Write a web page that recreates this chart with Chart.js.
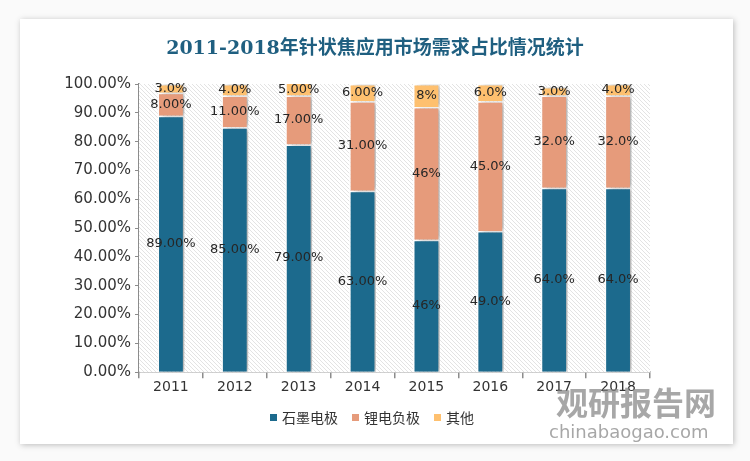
<!DOCTYPE html>
<html>
<head>
<meta charset="utf-8">
<script src="https://cdn.jsdelivr.net/npm/chart.js@4.4.0/dist/chart.umd.min.js"></script>
<style>
  body { margin: 0; background: #f4f4f4; }
  .wrap { position: relative; width: 750px; height: 461px; background: #fafafa; }
  .card { position: absolute; left: 20px; top: 19px; width: 713px; height: 425px; background: #fff;
          box-shadow: 1px 1px 6px rgba(0,0,0,0.25); }
  canvas { position: absolute; left: 0; top: 0; }
  .title { position: absolute; left: 0; top: 32px; width: 750px; text-align: center;
           font: bold 19px "DejaVu Serif", "Noto Sans CJK SC"; color: #1f5f80; }
  .legend { position: absolute; left: 270px; top: 407px; font: 14px "Noto Sans CJK SC"; color: #333; white-space: nowrap; }
  .legend span { display: inline-block; margin-right: 14px; }
  .legend i { display: inline-block; width: 7px; height: 7px; margin-right: 5px; vertical-align: 2px; }
  .wm1 { position: absolute; left: 556px; top: 378px; font: bold 32px "Noto Sans CJK SC"; color: rgba(130,130,130,0.7); }
  .wm2 { position: absolute; left: 549px; top: 421px; font: 18px "DejaVu Sans"; color: rgba(130,130,130,0.7); }
</style>
</head>
<body>
<div class="wrap">
  <div class="card"></div>
  <canvas id="demandChart" width="750" height="461"></canvas>
  <div class="title">2011-2018年针状焦应用市场需求占比情况统计</div>
  <div class="legend" id="legend"></div>
  <div class="wm1">观研报告网</div>
  <div class="wm2">chinabaogao.com</div>
</div>
<script>
const years = ['2011', '2012', '2013', '2014', '2015', '2016', '2017', '2018'];
const graphite = [89, 85, 79, 63, 46, 49, 64, 64];
const anode = [8, 11, 17, 31, 46, 45, 32, 32];
const other = [3, 4, 5, 6, 8, 6, 3, 4];
// decimals used by each label in the picture
const graphiteDec = [2, 2, 2, 2, 0, 1, 1, 1];
const anodeDec = [2, 2, 2, 2, 0, 1, 1, 1];
const otherDec = [1, 1, 2, 2, 0, 1, 1, 1];

function hatch() {
    const c = document.createElement('canvas');
    c.width = 4; c.height = 4;
    const g = c.getContext('2d');
    g.fillStyle = '#ffffff';
    g.fillRect(0, 0, 4, 4);
    g.strokeStyle = '#e3e3e3';
    g.lineWidth = 1;
    g.beginPath();
    g.moveTo(0, 0); g.lineTo(4, 4);
    g.moveTo(-2, 2); g.lineTo(2, 6);
    g.moveTo(2, -2); g.lineTo(6, 2);
    g.stroke();
    return g.createPattern(c, 'repeat');
}

const bgPlugin = {
    id: 'bgHatch',
    beforeDatasetsDraw(chart) {
        const a = chart.chartArea, ctx = chart.ctx;
        ctx.save();
        ctx.fillStyle = hatch();
        ctx.fillRect(a.left, a.top, a.right - a.left, a.bottom - a.top);
        ctx.restore();
        ctx.save();
        ctx.shadowColor = 'rgba(0,0,0,0.3)';
        ctx.shadowOffsetX = 4;
        ctx.shadowOffsetY = 0;
        ctx.shadowBlur = 5;
    },
    afterDatasetsDraw(chart) {
        chart.ctx.restore();
    }
};

const labelPlugin = {
    id: 'segLabels',
    afterDatasetsDraw(chart) {
        const ctx = chart.ctx, a = chart.chartArea;
        ctx.save();
        ctx.font = '13px "DejaVu Sans"';
        ctx.fillStyle = '#262626';
        ctx.textAlign = 'center';
        ctx.textBaseline = 'middle';
        chart.data.datasets.forEach((ds, i) => {
            chart.getDatasetMeta(i).data.forEach((bar, j) => {
                const p = bar.getProps(['x', 'y', 'base'], true);
                const top = Math.max(p.y, a.top);
                const txt = ds.data[j].toFixed(ds.decimals[j]) + '%';
                ctx.fillText(txt, p.x, (top + p.base) / 2);
            });
        });
        ctx.restore();
    }
};

const ctx = document.getElementById('demandChart').getContext('2d');
const demandChart = new Chart(ctx, {
    type: 'bar',
    data: {
        labels: years,
        datasets: [
            {
                label: '石墨电极',
                data: graphite,
                decimals: graphiteDec,
                backgroundColor: '#1c6a8d',
                borderColor: '#ffffff',
                borderWidth: 1.5
            },
            {
                label: '锂电负极',
                data: anode,
                decimals: anodeDec,
                backgroundColor: '#e69b7b',
                borderColor: '#ffffff',
                borderWidth: 1.5
            },
            {
                label: '其他',
                data: other,
                decimals: otherDec,
                backgroundColor: '#fec06f',
                borderColor: '#ffffff',
                borderWidth: 1.5
            }
        ]
    },
    options: {
        responsive: false,
        animation: false,
        layout: { padding: { left: 20, right: 100, top: 84, bottom: 64 } },
        datasets: { bar: { barPercentage: 0.42, categoryPercentage: 1 } },
        scales: {
            x: {
                stacked: true,
                border: { color: '#8c8c8c', width: 1.5 },
                grid: { offset: true, drawOnChartArea: false, tickLength: 6, color: '#8c8c8c', lineWidth: 1.5 },
                ticks: { color: '#333', font: { family: 'DejaVu Sans', size: 14 }, padding: 1 }
            },
            y: {
                stacked: true,
                min: 0,
                max: 100,
                border: { color: '#8c8c8c', width: 1.5 },
                grid: { drawOnChartArea: false, tickLength: 4, color: '#8c8c8c' },
                ticks: {
                    stepSize: 10,
                    color: '#333',
                    font: { family: 'DejaVu Sans', size: 15 },
                    padding: 4,
                    callback: v => v.toFixed(2) + '%'
                },
                afterFit(scale) { scale.width = 119; }
            }
        },
        plugins: {
            legend: { display: false },
            tooltip: { enabled: false }
        }
    },
    plugins: [bgPlugin, labelPlugin]
});

// legend built from the chart's datasets
document.getElementById('legend').innerHTML = demandChart.data.datasets
    .map(ds => '<span><i style="background:' + ds.backgroundColor + '"></i>' + ds.label + '</span>')
    .join('');
</script>
</body>
</html>
